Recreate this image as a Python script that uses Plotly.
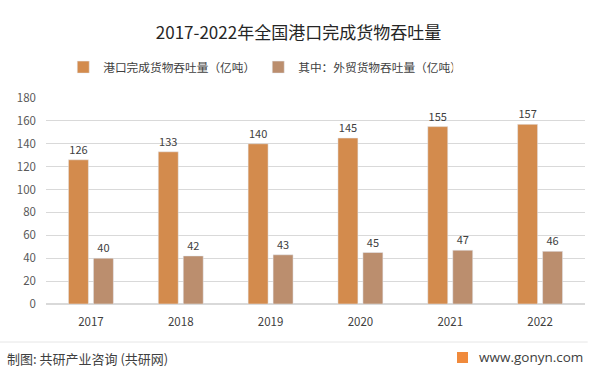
import plotly.graph_objects as go

years = ["2017", "2018", "2019", "2020", "2021", "2022"]
total = [126, 133, 140, 145, 155, 157]
foreign = [40, 42, 43, 45, 47, 46]
name_total = "港口完成货物吞吐量（亿吨）"
name_foreign = "其中：外贸货物吞吐量（亿吨）"

FONT = "Noto Sans CJK SC"

fig = go.Figure()
fig.add_trace(go.Bar(x=years, y=total, name=name_total, marker_color="#D38B4D",
                     text=total, textposition="outside", cliponaxis=False,
                     textfont=dict(size=11, color="#404040")))
fig.add_trace(go.Bar(x=years, y=foreign, name=name_foreign, marker_color="#BB8E6E",
                     text=foreign, textposition="outside", cliponaxis=False,
                     textfont=dict(size=11, color="#404040")))

fig.update_layout(
    width=597, height=372,
    margin=dict(l=46, r=12, t=98, b=68, autoexpand=False),
    paper_bgcolor="white", plot_bgcolor="white",
    font=dict(family=FONT, color="#595959", size=11),
    barmode="group", bargap=0.444, bargroupgap=0.2,
    title=dict(text="2017-2022年全国港口完成货物吞吐量", x=0.5, xanchor="center",
               y=0.91, yanchor="middle", font=dict(size=17, color="#262626", family=FONT)),
    legend=dict(orientation="h", x=0.032, xanchor="left", y=1.15, yanchor="middle",
                font=dict(size=11.7, color="#404040"), itemwidth=30,
                traceorder="normal", entrywidth=150),
    showlegend=True,
)
fig.update_yaxes(range=[0, 180], dtick=20, showgrid=True, gridcolor="#D9D9D9",
                 gridwidth=1, zeroline=True, zerolinecolor="#D9D9D9", ticks="",
                 tickfont=dict(size=11.5, color="#595959"), showline=False,
                 ticklabelstandoff=9)
fig.update_xaxes(showgrid=False, ticks="", tickfont=dict(size=11.5, color="#404040"),
                 showline=False, ticklabelstandoff=9)

# footer separator
fig.add_shape(type="line", xref="paper", yref="paper", x0=-46/539, x1=1.005,
              y0=-38/206, y1=-38/206, line=dict(color="#E6E6E6", width=1))
fig.add_annotation(text="制图: 共研产业咨询 (共研网)", xref="paper", yref="paper",
                   x=-41/539, xanchor="left", y=-54/206, yanchor="middle",
                   showarrow=False, font=dict(size=13, color="#404040", family=FONT))
fig.add_annotation(text="www.gonyn.com", xref="paper", yref="paper",
                   x=1.0, xanchor="right", y=-53/206, yanchor="middle",
                   showarrow=False, font=dict(size=13.5, color="#404040", family="Open Sans"))
# logo square
fig.add_shape(type="rect", xref="paper", yref="paper",
              x0=(457-46)/539, x1=(468-46)/539, y0=-59/206, y1=-48/206,
              fillcolor="#F08A3C", line=dict(width=0))

fig.write_html("out.html", config={"displayModeBar": False},
               post_script="document.body.style.margin='0';")
